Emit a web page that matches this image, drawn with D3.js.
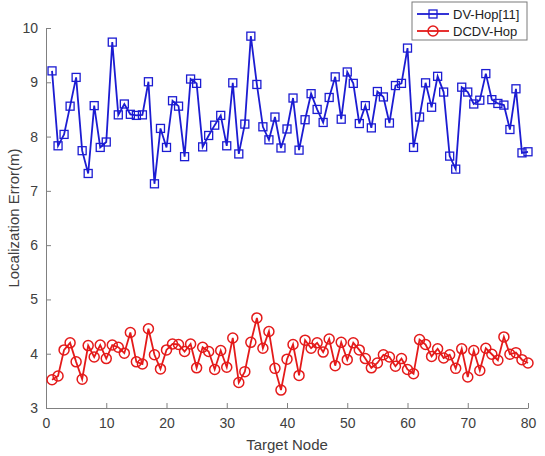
<!DOCTYPE html>
<meta charset="utf-8">
<head>
  <style>
    html, body { margin: 0; padding: 0; background: #fff; }
    body { font-family: 'Liberation Sans', Arial, sans-serif; }
  </style>
  <script src="https://d3js.org/d3.v7.min.js"></script>
</head>
<body>
  <div id="chart"></div>
  <script>
    // Target node index 1..80
    const nodes = d3.range(1, 81);

    // DV-Hop[11] localization error (m)
    const dvHop = [
      9.21, 7.83, 8.04, 8.56, 9.09, 7.74, 7.32, 8.57, 7.80, 7.90,
      9.74, 8.40, 8.60, 8.41, 8.39, 8.40, 9.01, 7.13, 8.15, 7.80,
      8.66, 8.56, 7.63, 9.06, 8.98, 7.81, 8.02, 8.21, 8.39, 7.83,
      8.99, 7.68, 8.23, 9.85, 8.96, 8.18, 7.94, 8.36, 7.79, 8.14,
      8.71, 7.75, 8.31, 8.79, 8.50, 8.26, 8.72, 9.10, 8.32, 9.19,
      8.98, 8.24, 8.57, 8.16, 8.83, 8.73, 8.25, 8.94, 8.98, 9.63,
      7.80, 8.36, 8.99, 8.54, 9.11, 8.82, 7.64, 7.40, 8.91, 8.82,
      8.60, 8.67, 9.16, 8.68, 8.61, 8.58, 8.13, 8.88, 7.70, 7.72
    ];

    // DCDV-Hop localization error (m)
    const dcdvHop = [
      3.52, 3.59, 4.07, 4.20, 3.85, 3.53, 4.15, 3.94, 4.16, 3.91,
      4.16, 4.12, 4.01, 4.39, 3.85, 3.81, 4.46, 3.98, 3.72, 4.07,
      4.18, 4.17, 4.04, 4.18, 3.74, 4.12, 4.04, 3.71, 4.06, 3.75,
      4.29, 3.47, 3.67, 4.21, 4.66, 4.10, 4.41, 3.73, 3.33, 3.90,
      4.17, 3.60, 4.25, 4.10, 4.20, 4.03, 4.27, 3.78, 4.21, 3.89,
      4.20, 4.07, 3.91, 3.74, 3.83, 3.98, 3.94, 3.77, 3.91, 3.71,
      3.63, 4.26, 4.17, 3.95, 4.09, 3.92, 3.98, 3.73, 4.09, 3.57,
      4.06, 3.69, 4.10, 3.99, 3.88, 4.31, 3.99, 4.02, 3.89, 3.83
    ];

    const xTicks = [0, 10, 20, 30, 40, 50, 60, 70, 80];
    const yTicks = [3, 4, 5, 6, 7, 8, 9, 10];

    const seriesNames = ["DV-Hop[11]", "DCDV-Hop"];
    const seriesColors = ["#1c1cd2", "#e41a1a"];

    const W = 545, H = 456;
    const margin = { top: 28, right: 17, bottom: 48, left: 46 };
    const width = W - margin.left - margin.right,
      height = H - margin.top - margin.bottom;

    const svg = d3.select("#chart").append("svg")
      .attr("width", W).attr("height", H);

    const g = svg.append("g")
      .attr("transform", `translate(${margin.left},${margin.top})`);

    const x = d3.scaleLinear().domain([0, 80]).range([0, width]);
    const y = d3.scaleLinear().domain([3, 10]).range([height, 0]);

    const axisColor = "#808080", textColor = "#404040";

    // x axis (ticks inward, MATLAB style)
    const gx = g.append("g")
      .attr("transform", `translate(0,${height})`)
      .call(d3.axisBottom(x).tickValues(xTicks).tickFormat(d3.format("d"))
        .tickSizeInner(-5).tickSizeOuter(0).tickPadding(10));
    // y axis
    const gy = g.append("g")
      .call(d3.axisLeft(y).tickValues(yTicks).tickFormat(d3.format("d"))
        .tickSizeInner(-5).tickSizeOuter(0).tickPadding(8));

    [gx, gy].forEach(a => {
      a.select(".domain").attr("stroke", axisColor).attr("stroke-width", 1);
      a.selectAll(".tick line").attr("stroke", axisColor);
      a.selectAll(".tick text")
        .attr("fill", textColor)
        .style("font-size", "14px")
        .style("font-family", "'Liberation Sans', Arial, sans-serif");
    });

    // axis titles
    svg.append("text")
      .attr("x", margin.left + width / 2)
      .attr("y", 450)
      .attr("text-anchor", "middle")
      .attr("fill", textColor)
      .style("font-size", "15px")
      .text("Target Node");

    svg.append("text")
      .attr("transform", `translate(19,${margin.top + height / 2}) rotate(-90)`)
      .attr("text-anchor", "middle")
      .attr("fill", textColor)
      .style("font-size", "15px")
      .text("Localization Error(m)");

    const line = d3.line().x((d, i) => x(nodes[i])).y(d => y(d));

    // blue series
    g.append("path")
      .datum(dvHop)
      .attr("fill", "none")
      .attr("stroke", seriesColors[0])
      .attr("stroke-width", 1.8)
      .attr("d", line);

    const sq = 8;
    g.selectAll(".sq")
      .data(dvHop)
      .join("rect")
      .attr("class", "sq")
      .attr("x", (d, i) => x(nodes[i]) - sq / 2)
      .attr("y", d => y(d) - sq / 2)
      .attr("width", sq).attr("height", sq)
      .attr("fill", "none")
      .attr("stroke", seriesColors[0])
      .attr("stroke-width", 1.3);

    // red series
    g.append("path")
      .datum(dcdvHop)
      .attr("fill", "none")
      .attr("stroke", seriesColors[1])
      .attr("stroke-width", 1.8)
      .attr("d", line);

    g.selectAll(".circ")
      .data(dcdvHop)
      .join("circle")
      .attr("class", "circ")
      .attr("cx", (d, i) => x(nodes[i]))
      .attr("cy", d => y(d))
      .attr("r", 5)
      .attr("fill", "none")
      .attr("stroke", seriesColors[1])
      .attr("stroke-width", 1.5);

    // legend
    const lg = svg.append("g").attr("transform", "translate(412,2)");
    lg.append("rect")
      .attr("width", 115).attr("height", 38)
      .attr("fill", "#fff")
      .attr("stroke", "#7a7a7a")
      .attr("stroke-width", 1);

    seriesNames.forEach((name, k) => {
      const cy = 12 + k * 17;
      const row = lg.append("g");
      row.append("line")
        .attr("x1", 5).attr("x2", 37)
        .attr("y1", cy).attr("y2", cy)
        .attr("stroke", seriesColors[k]).attr("stroke-width", 1.8);
      if (k === 0) {
        row.append("rect")
          .attr("x", 21 - sq / 2).attr("y", cy - sq / 2)
          .attr("width", sq).attr("height", sq)
          .attr("fill", "none").attr("stroke", seriesColors[k]).attr("stroke-width", 1.3);
      } else {
        row.append("circle")
          .attr("cx", 21).attr("cy", cy).attr("r", 5)
          .attr("fill", "none").attr("stroke", seriesColors[k]).attr("stroke-width", 1.5);
      }
      row.append("text")
        .attr("x", 41).attr("y", cy + 5)
        .attr("fill", "#222")
        .style("font-size", "13px")
        .text(name);
    });
  </script>
</body>
